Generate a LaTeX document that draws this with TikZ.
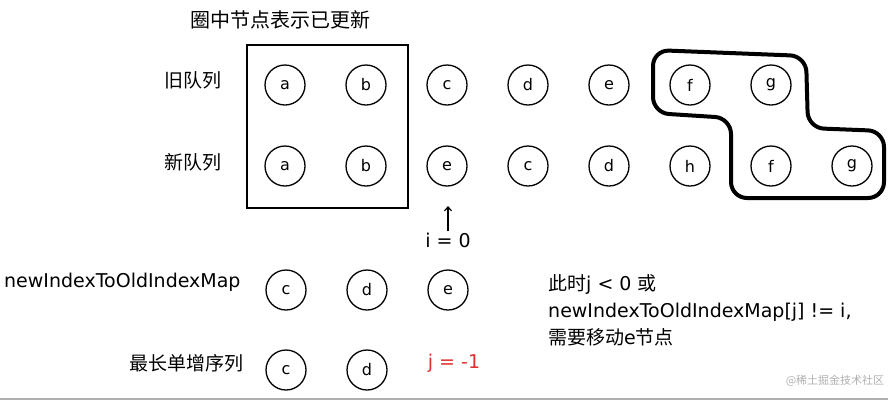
\documentclass[tikz,border=0pt]{standalone}
\usepackage{fontspec}
\setmainfont{DejaVu Sans}
\newfontfamily\cjk{Noto Sans CJK SC}
\usetikzlibrary{arrows.meta}
\definecolor{sketchred}{RGB}{224,49,49}
\definecolor{markgray}{RGB}{175,175,175}

\begin{document}
\begin{tikzpicture}[x=1pt, y=-1pt,
    vertex/.style={draw, circle, line width=1.3pt, minimum size=40pt, inner sep=0pt,
      font=\fontsize{16}{16}\selectfont},
    rowtext/.style={inner sep=1pt, font=\fontsize{19}{19}\selectfont}]
  \useasboundingbox (0,0) rectangle (888,400);

  % title and the box of updated nodes
  \node[rowtext, font=\fontsize{20}{20}\selectfont\cjk] (title) at (280,20) {圈中节点表示已更新};
  \draw[line width=1.5pt] (247,45) rectangle (408,208);

  % old and new queues
  \node[rowtext, font=\fontsize{19}{19}\selectfont\cjk] (oldlabel) at (193,80) {旧队列};
  \node[rowtext, font=\fontsize{19}{19}\selectfont\cjk] (newlabel) at (193,162) {新队列};
  \foreach \l [count=\i] in {a,b,c,d,e,f,g}
    \node[vertex] (old\l) at ({285+81*(\i-1)},85) {\l};
  \foreach \l [count=\i] in {a,b,e,c,d,h,f,g}
    \node[vertex] (new\l) at ({285+81*(\i-1)},166) {\l};

  % nodes f, g that are left
  \draw[line width=4pt, rounded corners=16pt]
    (653,50) -- (806,56) -- (808,128) -- (884,131) -- (884,198)
    -- (731,198) -- (731,118) -- (653,113) -- cycle;

  % pointer i
  \node[rowtext] (ilabel) at (448,240) {i = 0};
  \coordinate (itip) at (448,206);
  \draw[line width=1.2pt, -{Straight Barb[length=4pt, width=7pt]}] (ilabel) -- (itip);

  % newIndexToOldIndexMap
  \node[rowtext, anchor=west] (maplabel) at (3,282) {newIndexToOldIndexMap};
  \foreach \l [count=\i] in {c,d,e}
    \node[vertex] (map\l) at ({286+81*(\i-1)},290) {\l};

  % longest increasing subsequence
  \node[rowtext, anchor=east, font=\fontsize{19}{19}\selectfont\cjk] (seqlabel) at (245,363) {最长单增序列};
  \foreach \l [count=\i] in {c,d}
    \node[vertex] (seq\l) at ({286+81*(\i-1)},370) {\l};
  \node[rowtext, text=sketchred] (jlabel) at (454,363) {j = -1};

  % explanation
  \node[rowtext, anchor=west, align=left, font=\fontsize{19}{27}\selectfont] (note) at (547,310)
    {{\cjk 此时}j < 0 {\cjk 或}\\newIndexToOldIndexMap[j] != i,\\{\cjk 需要移动}e{\cjk 节点}};

  \node[text=markgray, inner sep=0pt, font=\fontsize{11}{11}\selectfont\cjk] (mark) at (835,381) {@稀土掘金技术社区};
  \draw[markgray, line width=1.5pt] (0,399) -- (888,399);
\end{tikzpicture}
\end{document}
